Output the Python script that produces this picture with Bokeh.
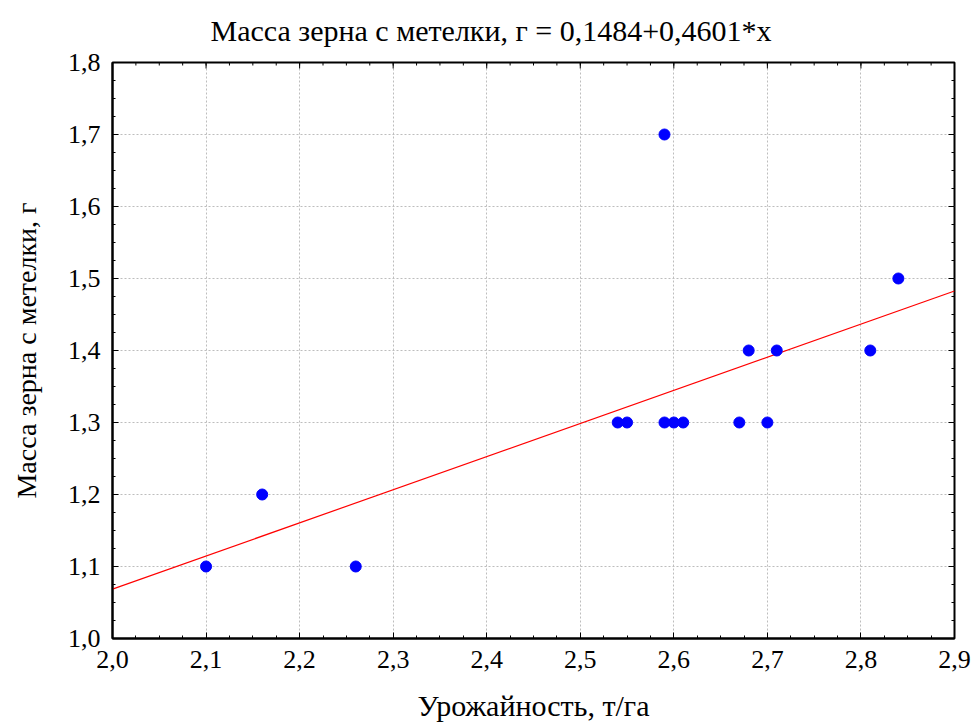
import math
from bokeh.plotting import figure
from bokeh.models import Range1d, FixedTicker, Title
from bokeh.embed import file_html
from bokeh.resources import INLINE

# data
yield_t = [2.10, 2.16, 2.26, 2.54, 2.55, 2.59, 2.59, 2.60, 2.61, 2.67, 2.70, 2.68, 2.71, 2.81, 2.84]
mass_g = [1.1, 1.2, 1.1, 1.3, 1.3, 1.7, 1.3, 1.3, 1.3, 1.3, 1.3, 1.4, 1.4, 1.4, 1.5]
intercept = 0.1484
slope = 0.4601
x_ticks = [2.0, 2.1, 2.2, 2.3, 2.4, 2.5, 2.6, 2.7, 2.8, 2.9]
y_ticks = [1.0, 1.1, 1.2, 1.3, 1.4, 1.5, 1.6, 1.7, 1.8]
x_minor = [round(2.0 + 0.025 * i, 3) for i in range(37)]
y_minor = [round(1.0 + 0.025 * i, 3) for i in range(33)]
title_text = "Масса зерна с метелки, г = 0,1484+0,4601*x"

FONT = "Liberation Serif"
X0, X1 = x_ticks[0], x_ticks[-1]
Y0, Y1 = y_ticks[0], y_ticks[-1]

p = figure(frame_width=842, frame_height=576,
           x_range=Range1d(X0, X1), y_range=Range1d(Y0, Y1),
           output_backend="svg", toolbar_location=None,
           min_border_left=112, min_border_right=17, min_border_top=62, min_border_bottom=86,
           background_fill_color="white", border_fill_color="white")

p.title.visible = False
t = Title(text=title_text, align="left", vertical_align="top",
          text_font=FONT, text_font_size="30px", text_font_style="normal",
          text_color="black", offset=98, standoff=27)
p.add_layout(t, "above")

p.outline_line_color = "black"
p.outline_line_width = 2

fmt = lambda v: f"{v:.1f}".replace(".", ",")

def style_axis(ax, ticks, minor):
    ax.ticker = FixedTicker(ticks=ticks, minor_ticks=minor)
    ax.axis_line_color = "black"
    ax.axis_line_width = 2
    ax.major_tick_in = 6
    ax.major_tick_out = 0
    ax.minor_tick_in = 3
    ax.minor_tick_out = 0
    ax.major_tick_line_color = "black"
    ax.minor_tick_line_color = "black"
    ax.major_label_text_font = FONT
    ax.major_label_text_font_size = "26px"
    ax.major_label_text_color = "black"
    ax.major_label_overrides = {v: fmt(v) for v in ticks}
    ax.axis_label_text_font = FONT
    ax.axis_label_text_font_style = "normal"
    ax.axis_label_text_color = "black"

style_axis(p.xaxis[0], x_ticks, x_minor)
style_axis(p.yaxis[0], y_ticks, y_minor)
p.xaxis.axis_label = "Урожайность, т/га"
p.yaxis.axis_label = "Масса зерна с метелки, г"
p.xaxis[0].axis_label_text_font_size = "30px"
p.yaxis[0].axis_label_text_font_size = "28px"
p.xaxis[0].major_label_standoff = 12
p.yaxis[0].major_label_standoff = 12
p.xaxis[0].axis_label_standoff = 18
p.yaxis[0].axis_label_standoff = 23

# ticks on top and right edges of the frame
p.ray(x=x_ticks, y=[Y1] * len(x_ticks), length=6, length_units="screen",
      angle=-math.pi / 2, line_color="black", line_width=1)
p.ray(x=x_minor, y=[Y1] * len(x_minor), length=3, length_units="screen",
      angle=-math.pi / 2, line_color="black", line_width=1)
p.ray(x=[X1] * len(y_ticks), y=y_ticks, length=6, length_units="screen",
      angle=math.pi, line_color="black", line_width=1)
p.ray(x=[X1] * len(y_minor), y=y_minor, length=3, length_units="screen",
      angle=math.pi, line_color="black", line_width=1)

p.xgrid.ticker = FixedTicker(ticks=x_ticks)
p.ygrid.ticker = FixedTicker(ticks=y_ticks)
p.grid.grid_line_color = "#bdbdbd"
p.grid.grid_line_dash = "2 2"
p.grid.grid_line_width = 1

lx = [X0, X1]
ly = [intercept + slope * v for v in lx]
p.line(lx, ly, line_color="red", line_width=1.2)

p.scatter(yield_t, mass_g, size=11, fill_color="blue", line_color="blue")

open("out.html", "w").write(file_html(p, INLINE))
